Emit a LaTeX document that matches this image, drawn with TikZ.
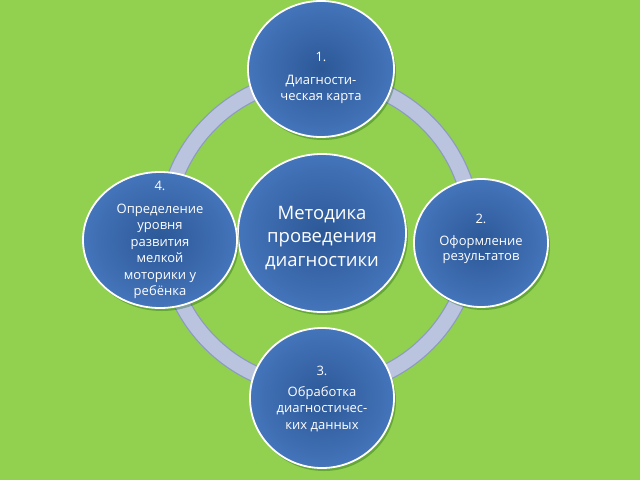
\documentclass[tikz,border=0pt]{standalone}
\usepackage{fontspec}
\setmainfont{Open Sans}
\usetikzlibrary{shapes.geometric,shadows}
\definecolor{bg}{HTML}{92D050}
\definecolor{ringc}{HTML}{BAC4DF}
\definecolor{ringe}{HTML}{8C9BBF}
\definecolor{bin}{HTML}{2C5897}
\definecolor{bout}{HTML}{4474BA}
\tikzset{
  bub/.style={ellipse, draw=white, line width=1.8pt, inner sep=0pt,
    inner color=bin, outer color=bout,
    drop shadow={shadow xshift=2pt, shadow yshift=-3pt, opacity=0.3, fill=black!70!green}},
  txt/.style={text=white, align=center, inner sep=0pt,
    font=\fontsize{13}{16.5}\selectfont},
}
\begin{document}
\begin{tikzpicture}[x=1pt,y=-1pt]
\fill[bg] (0,0) rectangle (640,480);
\useasboundingbox (0,0) rectangle (640,480);
% ring
\draw[ringe, line width=17pt] (319,233) ellipse [x radius=154, y radius=155];
\draw[ringc, line width=14.5pt] (319,233) ellipse [x radius=154, y radius=155];
% bubbles
\node[bub, minimum width=168pt, minimum height=158pt] (c) at (322,233) {};
\node[bub, minimum width=146pt, minimum height=136pt] (t) at (321,69) {};
\node[bub, minimum width=134pt, minimum height=128pt] (r) at (481,243) {};
\node[bub, minimum width=144pt, minimum height=140pt] (b) at (322,398) {};
\node[bub, minimum width=154pt, minimum height=136pt] (l) at (160,240) {};
% texts
\node[txt, font=\fontsize{18.5}{23.5}\selectfont] (ct) at ([yshift=-5pt]c.center) {Методика\\проведения\\диагностики};
\node[txt] (tt) at ([yshift=-9pt]t.center) {1.\\[6pt]Диагности-\\ческая карта};
\node[txt, font=\fontsize{13}{15.5}\selectfont] (rt) at ([yshift=4pt]r.center) {2.\\[6pt]Оформление\\результатов};
\node[txt] (bt) at ([yshift=-1pt]b.center) {3.\\[4pt]Обработка\\диагностичес-\\ких данных};
\node[txt] (lt) at (l.center) {4.\\[6pt]Определение\\уровня\\развития\\мелкой\\моторики у\\ребёнка};
\end{tikzpicture}
\end{document}
